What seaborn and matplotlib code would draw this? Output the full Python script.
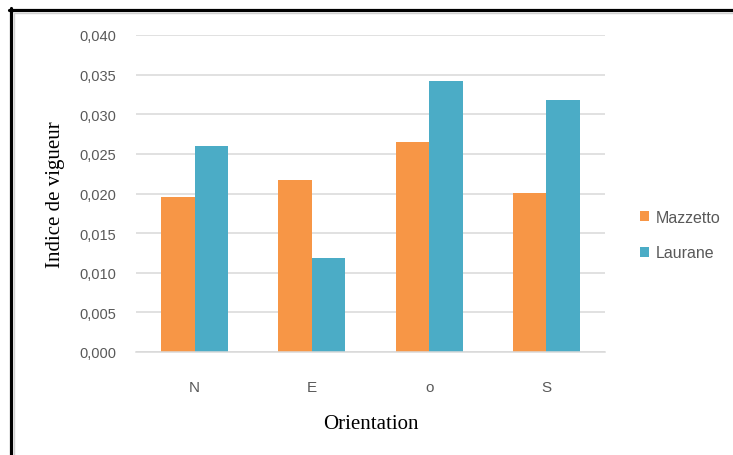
import matplotlib
matplotlib.use("Agg")
import matplotlib.pyplot as plt
from matplotlib.lines import Line2D
import seaborn as sns
import pandas as pd

categories = ["N", "E", "o", "S"]
series_names = ["Mazzetto", "Laurane"]
mazzetto = [0.0196, 0.0217, 0.0265, 0.0201]
laurane = [0.0260, 0.0119, 0.0342, 0.0318]
yticks = [0.000, 0.005, 0.010, 0.015, 0.020, 0.025, 0.030, 0.035, 0.040]
ytick_labels = ["0,000", "0,005", "0,010", "0,015", "0,020", "0,025", "0,030", "0,035", "0,040"]
colors = ["#F79646", "#4BACC6"]

df = pd.DataFrame({
    "Orientation": categories * 2,
    "Valeur": mazzetto + laurane,
    "Série": [series_names[0]] * 4 + [series_names[1]] * 4,
})

sns.set_theme(style="white")
plt.rcParams["font.family"] = ["Liberation Sans", "DejaVu Sans"]

fig = plt.figure(figsize=(7.33, 4.56), dpi=100)
ax = fig.add_axes([136 / 733, 1 - 353 / 456, 469 / 733, 317 / 456])

sns.barplot(data=df, x="Orientation", y="Valeur", hue="Série", order=categories,
            hue_order=series_names, palette=colors, width=0.57, gap=0,
            saturation=1, ax=ax, errorbar=None, linewidth=0, edgecolor="none")

ax.set_ylim(0, 0.040)
ax.set_yticks(yticks)
ax.set_yticklabels(ytick_labels)
ax.yaxis.grid(True, color="#D9D9D9", linewidth=1.1)
ax.set_axisbelow(True)
for s in ["left", "right", "top"]:
    ax.spines[s].set_visible(False)
ax.spines["bottom"].set_color("#D9D9D9")
ax.spines["bottom"].set_linewidth(1.1)

ax.tick_params(axis="y", length=0, pad=14, labelsize=10.5, labelcolor="#595959")
ax.tick_params(axis="x", length=0, pad=20, labelsize=11, labelcolor="#595959")

ax.set_xlabel("Orientation", fontsize=15, family=["Liberation Serif"], color="black")
ax.set_ylabel("Indice de vigueur", fontsize=15, family=["Liberation Serif"], color="black")
ax.xaxis.set_label_coords(0.5, -0.225)
ax.xaxis.label.set_va("center")
ax.yaxis.set_label_coords(-0.172, 0.5)
ax.yaxis.label.set_va("center")

leg = ax.legend(loc="center left", bbox_to_anchor=(632 / 733, 1 - 236 / 456),
                bbox_transform=fig.transFigure, frameon=False, fontsize=11.5,
                handlelength=0.55, handleheight=0.55, handletextpad=0.45,
                labelspacing=1.3, borderpad=0)
for t in leg.get_texts():
    t.set_color("#595959")

# outer frame
fig.add_artist(Line2D([10.5 / 733, 10.5 / 733], [0, 1 - 9 / 456], transform=fig.transFigure,
                      color="black", linewidth=2.3))
fig.add_artist(Line2D([9 / 733, 1], [1 - 10.5 / 456, 1 - 10.5 / 456], transform=fig.transFigure,
                      color="black", linewidth=2.3))
fig.add_artist(Line2D([13.8 / 733, 13.8 / 733], [0, 1 - 13.8 / 456], transform=fig.transFigure,
                      color="#D0D0D0", linewidth=1.0))
fig.add_artist(Line2D([13.8 / 733, 1], [1 - 13.8 / 456, 1 - 13.8 / 456], transform=fig.transFigure,
                      color="#D0D0D0", linewidth=1.0))

fig.savefig("out.png", dpi=100)
